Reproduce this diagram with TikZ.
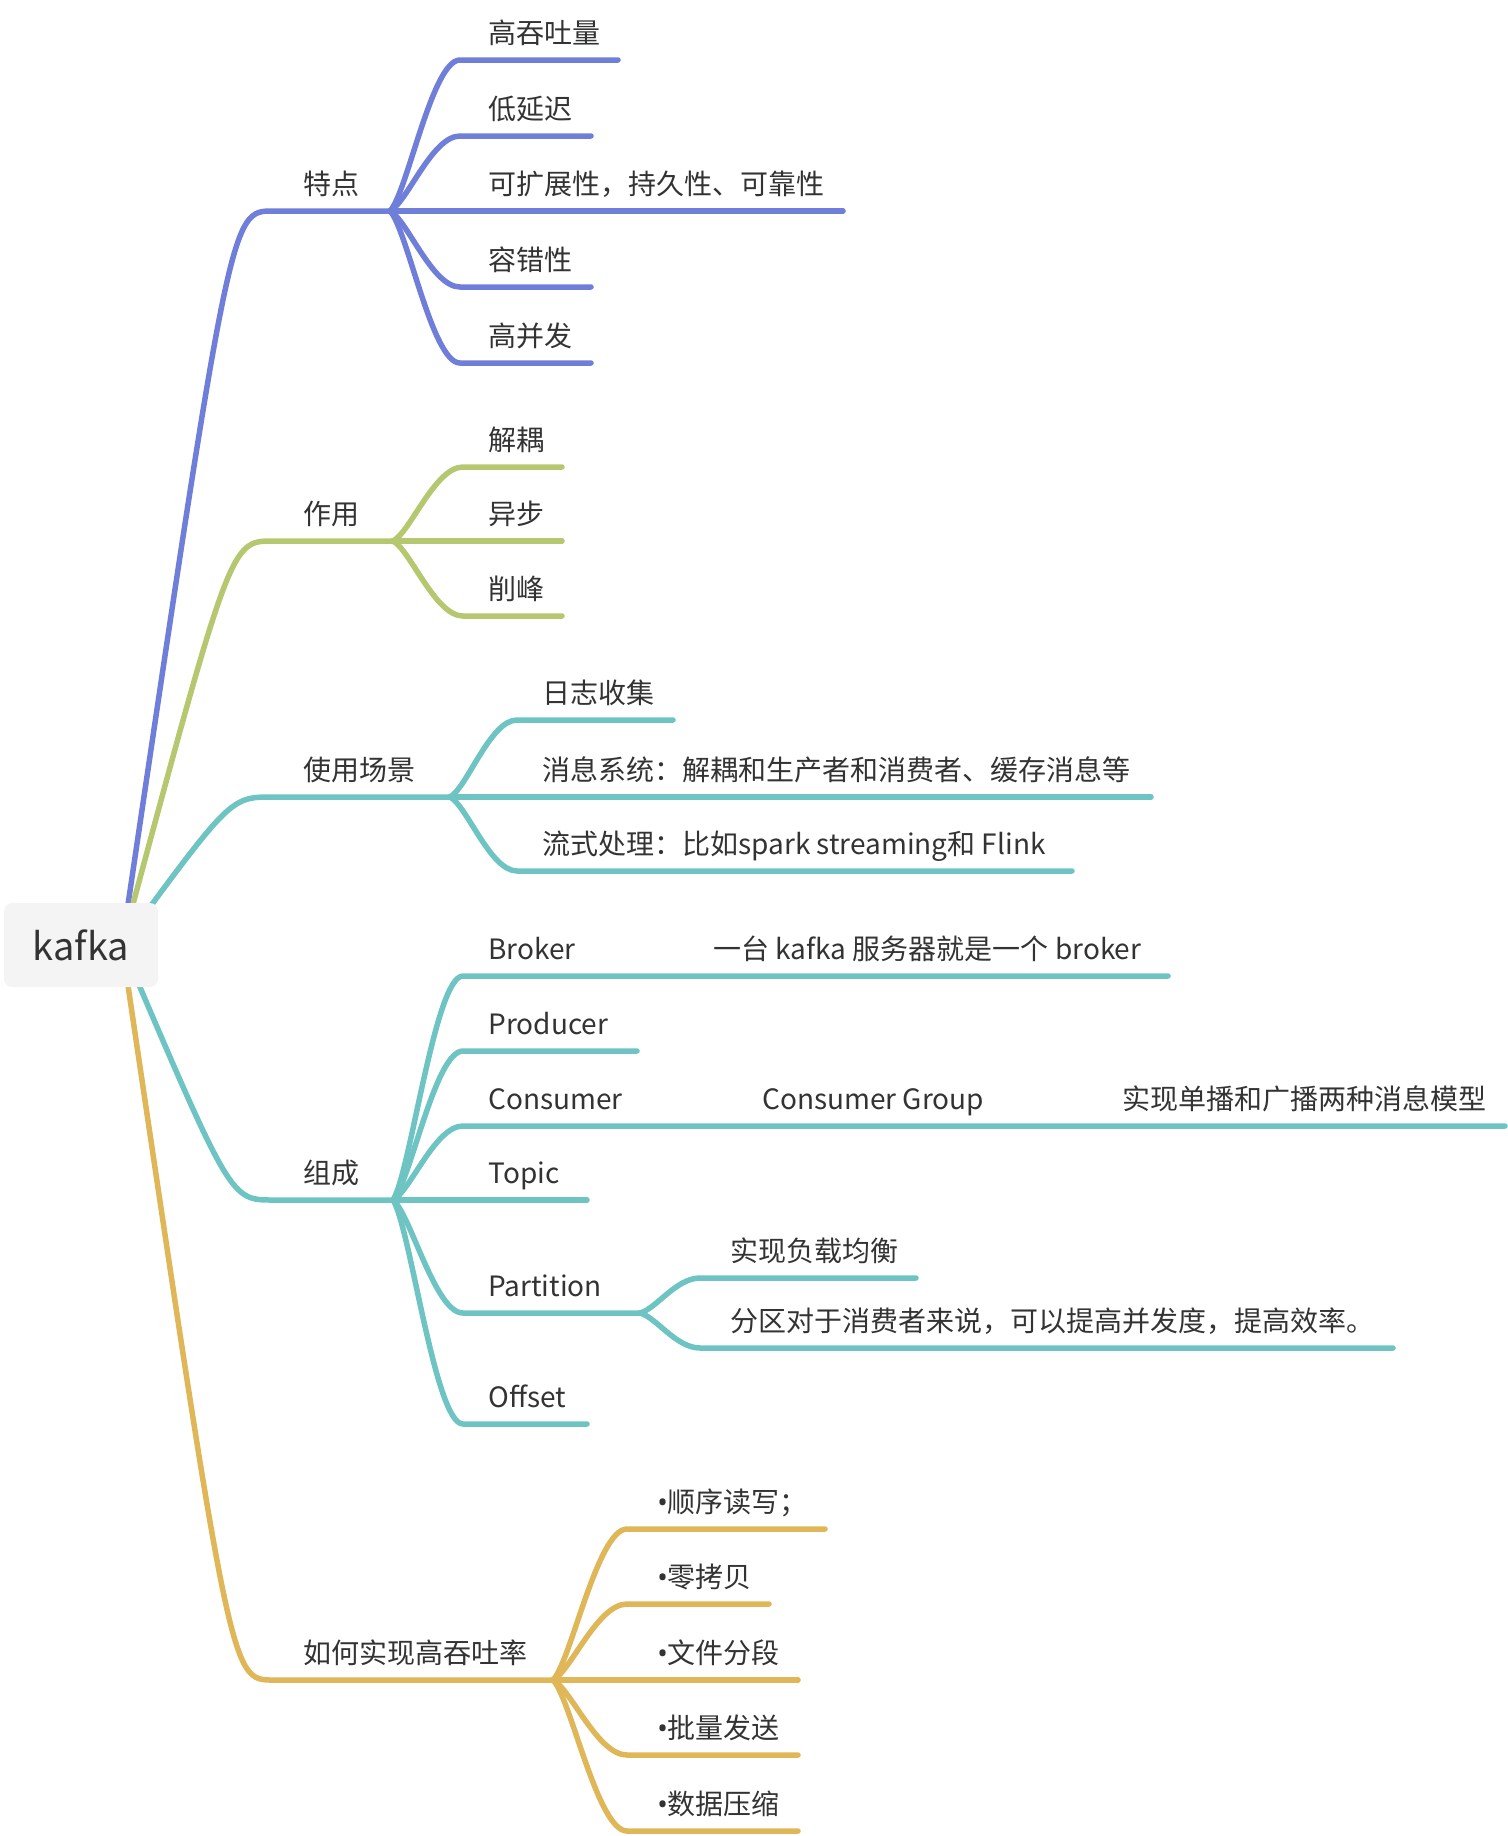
\documentclass[tikz,border=0pt]{standalone}
\usepackage{fontspec}
\setmainfont{Noto Sans CJK SC}
\newfontfamily\dotfont{Noto Sans}
\usetikzlibrary{calc}

\definecolor{cblue}{HTML}{6F7FD9}
\definecolor{cgreen}{HTML}{B5C76F}
\definecolor{cteal}{HTML}{6EC3C3}
\definecolor{cgold}{HTML}{E0B758}
\definecolor{rootfill}{HTML}{F4F4F4}
\definecolor{ink}{HTML}{333333}

\newcommand{\dotmark}{{\dotfont •}}

\tikzset{
  txt/.style={anchor=base west, inner sep=0pt, text=ink, font=\fontsize{14pt}{16pt}\selectfont},
  rootbox/.style={fill=rootfill, rounded corners=4pt, minimum width=77pt, minimum height=42pt, inner sep=0pt, text=ink, font=\fontsize{19pt}{22pt}\selectfont},
  limb/.style={line width=2.75pt, line cap=round, line join=round},
  % from a joint to the start of a child underline
  twig/.style={to path={.. controls ($(\tikztostart)!0.12!(\tikztotarget)+(9,0)$) and ($(\tikztostart|-\tikztotarget)!0.6!(\tikztotarget)$) .. (\tikztotarget)}},
  % from the root to a main topic
  bough/.style={to path={.. controls ($(\tikztostart|-\tikztotarget)!0.72!(\tikztotarget)$) and ($(\tikztostart|-\tikztotarget)!0.72!(\tikztotarget)$) .. (\tikztotarget)}}
}

\begin{document}
\begin{tikzpicture}[x=0.5pt, y=-0.5pt]
	\useasboundingbox (0,0) rectangle (1508,1836);
	\coordinate (hub) at (122,945);
	
	% main topics
	\coordinate (tds) at (273,211); \coordinate (tdj) at (390,211);
	\coordinate (zys) at (273,541); \coordinate (zyj) at (393,541);
	\coordinate (sys) at (273,797); \coordinate (syj) at (450,797);
	\coordinate (zcs) at (273,1200); \coordinate (zcj) at (393,1200);
	\coordinate (gts) at (273,1680); \coordinate (gtj) at (553,1680);
	
	\draw node[txt] at (303,194) (td) {特点};
	\draw node[txt] at (303,524) (zy) {作用};
	\draw node[txt] at (303,780) (sy) {使用场景};
	\draw node[txt] at (303,1183) (zc) {组成};
	\draw node[txt] at (303,1663) (gt) {如何实现高吞吐率};
	
	\draw [limb, cblue]  (hub) to[bough] (tds) -- (tdj);
	\draw [limb, cgreen] (hub) to[bough] (zys) -- (zyj);
	\draw [limb, cteal]  (hub) to[bough] (sys) -- (syj);
	\draw [limb, cteal]  (hub) to[bough] (zcs) -- (zcj);
	\draw [limb, cgold]  (hub) to[bough] (gts) -- (gtj);
	
	% 特点
	\coordinate (td1s) at (460,60);  \coordinate (td1e) at (618,60);
	\coordinate (td2s) at (460,136); \coordinate (td2e) at (591,136);
	\coordinate (td3s) at (460,211); \coordinate (td3e) at (843,211);
	\coordinate (td4s) at (460,287); \coordinate (td4e) at (591,287);
	\coordinate (td5s) at (460,363); \coordinate (td5e) at (591,363);
	\draw node[txt] at (488,43) (td1) {高吞吐量};
	\draw node[txt] at (488,119) (td2) {低延迟};
	\draw node[txt] at (488,194) (td3) {可扩展性，持久性、可靠性};
	\draw node[txt] at (488,270) (td4) {容错性};
	\draw node[txt] at (488,346) (td5) {高并发};
	\draw [limb, cblue] (tdj) to[twig] (td1s) -- (td1e);
	\draw [limb, cblue] (tdj) to[twig] (td2s) -- (td2e);
	\draw [limb, cblue] (tdj) to[twig] (td3s) -- (td3e);
	\draw [limb, cblue] (tdj) to[twig] (td4s) -- (td4e);
	\draw [limb, cblue] (tdj) to[twig] (td5s) -- (td5e);
	
	% 作用
	\coordinate (zy1s) at (463,467); \coordinate (zy1e) at (562,467);
	\coordinate (zy2s) at (463,541); \coordinate (zy2e) at (562,541);
	\coordinate (zy3s) at (463,616); \coordinate (zy3e) at (562,616);
	\draw node[txt] at (488,450) (zy1) {解耦};
	\draw node[txt] at (488,524) (zy2) {异步};
	\draw node[txt] at (488,599) (zy3) {削峰};
	\draw [limb, cgreen] (zyj) to[twig] (zy1s) -- (zy1e);
	\draw [limb, cgreen] (zyj) to[twig] (zy2s) -- (zy2e);
	\draw [limb, cgreen] (zyj) to[twig] (zy3s) -- (zy3e);
	
	% 使用场景
	\coordinate (sy1s) at (517,720); \coordinate (sy1e) at (673,720);
	\coordinate (sy2s) at (517,797); \coordinate (sy2e) at (1151,797);
	\coordinate (sy3s) at (517,871); \coordinate (sy3e) at (1072,871);
	\draw node[txt] at (542,703) (sy1) {日志收集};
	\draw node[txt] at (542,780) (sy2) {消息系统：解耦和生产者和消费者、缓存消息等};
	\draw node[txt] at (542,854) (sy3) {流式处理：比如spark streaming和 Flink};
	\draw [limb, cteal] (syj) to[twig] (sy1s) -- (sy1e);
	\draw [limb, cteal] (syj) to[twig] (sy2s) -- (sy2e);
	\draw [limb, cteal] (syj) to[twig] (sy3s) -- (sy3e);
	
	% 组成
	\coordinate (zc1s) at (463,976);  \coordinate (zc1j) at (683,976);  \coordinate (zc1e) at (1168,976);
	\coordinate (zc2s) at (463,1051); \coordinate (zc2e) at (637,1051);
	\coordinate (zc3s) at (463,1126); \coordinate (zc3j) at (733,1126); \coordinate (zc3k) at (1093,1126); \coordinate (zc3e) at (1505,1126);
	\coordinate (zc4s) at (463,1200); \coordinate (zc4e) at (587,1200);
	\coordinate (zc5s) at (463,1313); \coordinate (zc5j) at (640,1313);
	\coordinate (zc6s) at (463,1424); \coordinate (zc6e) at (587,1424);
	\draw node[txt] at (488,959) (zc1) {Broker};
	\draw node[txt] at (713,959) (zc1a) {一台 kafka 服务器就是一个 broker};
	\draw node[txt] at (488,1034) (zc2) {Producer};
	\draw node[txt] at (488,1109) (zc3) {Consumer};
	\draw node[txt] at (762,1109) (zc3a) {Consumer Group};
	\draw node[txt] at (1122,1109) (zc3b) {实现单播和广播两种消息模型};
	\draw node[txt] at (488,1183) (zc4) {Topic};
	\draw node[txt] at (488,1296) (zc5) {Partition};
	\draw node[txt] at (488,1407) (zc6) {Offset};
	\draw [limb, cteal] (zcj) to[twig] (zc1s) -- (zc1j) -- (zc1e);
	\draw [limb, cteal] (zcj) to[twig] (zc2s) -- (zc2e);
	\draw [limb, cteal] (zcj) to[twig] (zc3s) -- (zc3j) -- (zc3k) -- (zc3e);
	\draw [limb, cteal] (zcj) to[twig] (zc4s) -- (zc4e);
	\draw [limb, cteal] (zcj) to[twig] (zc5s) -- (zc5j);
	\draw [limb, cteal] (zcj) to[twig] (zc6s) -- (zc6e);
	
	% Partition
	\coordinate (zc5as) at (700,1278); \coordinate (zc5ae) at (916,1278);
	\coordinate (zc5bs) at (700,1348); \coordinate (zc5be) at (1393,1348);
	\draw node[txt] at (730,1261) (zc5a) {实现负载均衡};
	\draw node[txt] at (730,1331) (zc5b) {分区对于消费者来说，可以提高并发度，提高效率。};
	\draw [limb, cteal] (zc5j) to[twig] (zc5as) -- (zc5ae);
	\draw [limb, cteal] (zc5j) to[twig] (zc5bs) -- (zc5be);
	
	% 如何实现高吞吐率
	\coordinate (gt1s) at (627,1529); \coordinate (gt1e) at (825,1529);
	\coordinate (gt2s) at (627,1604); \coordinate (gt2e) at (769,1604);
	\coordinate (gt3s) at (627,1680); \coordinate (gt3e) at (798,1680);
	\coordinate (gt4s) at (627,1755); \coordinate (gt4e) at (798,1755);
	\coordinate (gt5s) at (627,1831); \coordinate (gt5e) at (798,1831);
	\draw node[txt] at (657,1512) (gt1) {\dotmark 顺序读写；};
	\draw node[txt] at (657,1587) (gt2) {\dotmark 零拷贝};
	\draw node[txt] at (657,1663) (gt3) {\dotmark 文件分段};
	\draw node[txt] at (657,1738) (gt4) {\dotmark 批量发送};
	\draw node[txt] at (657,1814) (gt5) {\dotmark 数据压缩};
	\draw [limb, cgold] (gtj) to[twig] (gt1s) -- (gt1e);
	\draw [limb, cgold] (gtj) to[twig] (gt2s) -- (gt2e);
	\draw [limb, cgold] (gtj) to[twig] (gt3s) -- (gt3e);
	\draw [limb, cgold] (gtj) to[twig] (gt4s) -- (gt4e);
	\draw [limb, cgold] (gtj) to[twig] (gt5s) -- (gt5e);
	
	% root on top of the branches
	\draw node[rootbox] at (81,945) (kafka) {kafka};
\end{tikzpicture}
\end{document}
